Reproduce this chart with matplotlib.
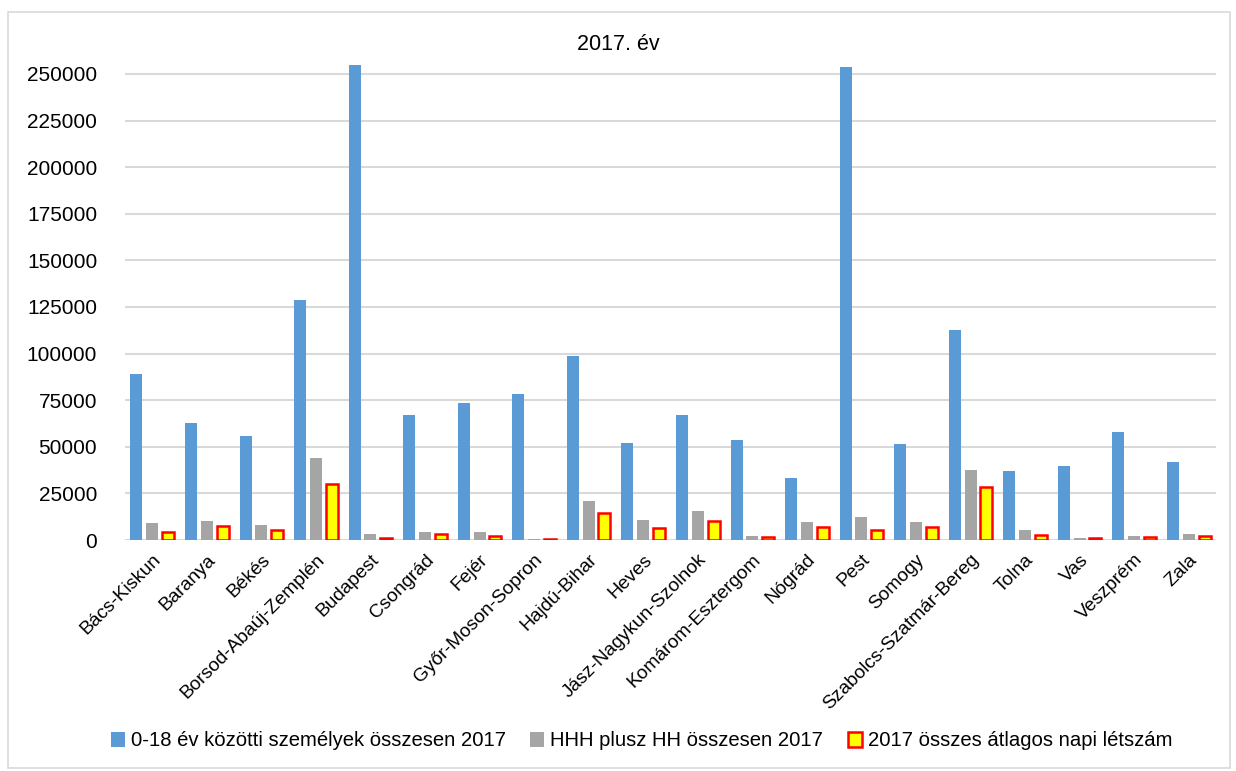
import matplotlib
matplotlib.use('Agg')
import matplotlib.pyplot as plt
import numpy as np
from matplotlib.patches import Rectangle, Patch

counties = ['Bács-Kiskun', 'Baranya', 'Békés', 'Borsod-Abaúj-Zemplén', 'Budapest',
            'Csongrád', 'Fejér', 'Győr-Moson-Sopron', 'Hajdú-Bihar', 'Heves',
            'Jász-Nagykun-Szolnok', 'Komárom-Esztergom', 'Nógrád', 'Pest', 'Somogy',
            'Szabolcs-Szatmár-Bereg', 'Tolna', 'Vas', 'Veszprém', 'Zala']
children = [89000, 62900, 55800, 129000, 256000, 67100, 73500, 78200, 98700, 52200,
            67200, 53500, 33100, 253500, 51500, 112500, 37200, 39900, 57800, 42000]
hhh = [8900, 10400, 7900, 44200, 3200, 4300, 4300, 700, 20900, 10600,
       15700, 2100, 9500, 12300, 9700, 37600, 5200, 1200, 2300, 3400]
daily = [4100, 7700, 5500, 30200, 900, 3000, 2300, 800, 14300, 6600,
         10000, 1400, 7000, 5400, 7000, 28400, 2900, 1000, 1800, 2300]
labels = ['0-18 év közötti személyek összesen 2017', 'HHH plusz HH összesen 2017',
          '2017 összes átlagos napi létszám']
yticks = list(range(0, 250001, 25000))

plt.rcParams['font.family'] = ['Liberation Sans', 'DejaVu Sans']

fig = plt.figure(figsize=(12.36, 7.71), dpi=100)
ax = fig.add_axes([125 / 1236, 1 - 540 / 771, (1216 - 125) / 1236, (540 - 65) / 771])

x = np.arange(len(counties))
w = 0.22
step = 0.29
ax.bar(x - step, children, w, color='#5B9BD5', zorder=3)
ax.bar(x, hhh, w, color='#A5A5A5', zorder=3)
ax.bar(x + step, daily, w, color='#FFFF00', edgecolor='#FF0000', linewidth=1.8, zorder=3)

ax.set_xlim(-0.5, len(counties) - 0.5)
ax.set_ylim(0, 254800)
ax.set_yticks(yticks)
ax.set_yticklabels([str(v) for v in yticks], fontsize=15)
ax.set_xticks(x)
ax.set_xticklabels(counties, rotation=45, ha='right', rotation_mode='anchor', fontsize=13.8)
ax.tick_params(length=0, pad=8)
ax.tick_params(axis='y', pad=20)
ax.grid(axis='y', color='#D9D9D9', linewidth=1.5, zorder=0)
for s in ax.spines.values():
    s.set_visible(False)

fig.text(0.5, 1 - 45 / 771, '2017. év', ha='center', va='center', fontsize=15.5)

handles = [Patch(facecolor='#5B9BD5'), Patch(facecolor='#A5A5A5'),
           Patch(facecolor='#FFFF00', edgecolor='#FF0000', linewidth=1.8)]
fig.legend(handles, labels, loc='center', bbox_to_anchor=(0.519, 1 - 741 / 771), ncol=3,
           frameon=False, fontsize=14.6, handlelength=0.7, handleheight=0.7,
           handletextpad=0.3, columnspacing=1.2)

fig.patches.append(Rectangle((8 / 1236, 3 / 771), 1222 / 1236, 756 / 771,
                             transform=fig.transFigure, fill=False,
                             edgecolor='#D9D9D9', linewidth=1.2))

fig.savefig('out.png', dpi=100)
